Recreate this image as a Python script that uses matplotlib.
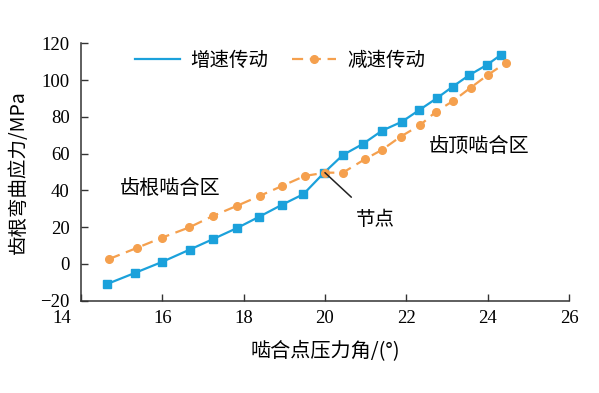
import matplotlib
matplotlib.use("Agg")
import matplotlib.pyplot as plt
import matplotlib.transforms as mtransforms
from matplotlib.lines import Line2D

# ── Data ──────────────────────────────────────────────────────────────────────
up_x = [14.64, 15.32, 15.99, 16.68, 17.24, 17.83, 18.39, 18.94, 19.47, 19.98,
        20.44, 20.93, 21.40, 21.89, 22.32, 22.75, 23.14, 23.55, 23.98, 24.32]
up_y = [-11.0, -5.0, 1.0, 7.8, 13.4, 19.4, 25.7, 32.1, 37.9, 49.6,
        59.2, 65.2, 72.4, 77.3, 83.7, 90.1, 96.4, 102.7, 108.2, 113.6]

down_x = [14.70, 15.38, 16.00, 16.66, 17.25, 17.83, 18.40, 18.95, 19.50, 20.00,
          20.44, 20.98, 21.40, 21.86, 22.34, 22.73, 23.15, 23.58, 24.00, 24.45]
down_y = [2.7, 8.7, 14.3, 19.8, 26.1, 31.5, 37.0, 42.4, 47.8, 49.6,
          49.6, 56.9, 62.0, 69.2, 75.5, 82.8, 88.6, 95.8, 102.7, 109.4]

labels = ["增速传动", "减速传动"]
x_ticks = [14, 16, 18, 20, 22, 24, 26]
y_ticks = [-20, 0, 20, 40, 60, 80, 100, 120]

BLUE = "#1BA1DB"
ORANGE = "#F5A04E"
CJK = ["Noto Sans CJK SC", "DejaVu Sans"]
SERIF = "Liberation Serif"

# ── Figure ────────────────────────────────────────────────────────────────────
fig = plt.figure(figsize=(5.99, 3.93), dpi=100)
ax = fig.add_axes([0.135, 0.235, 0.815, 0.655])

ax.plot(up_x, up_y, color=BLUE, lw=1.6, marker="s", ms=5.5)
ax.plot(down_x, down_y, color=ORANGE, lw=1.6, ls=(0, (5, 3)), marker="o", ms=5.5)

ax.set_xlim(14, 26)
ax.set_ylim(-20, 120)
ax.set_xticks(x_ticks)
ax.set_yticks(y_ticks)
ax.set_xticklabels([str(v) for v in x_ticks], family=SERIF, fontsize=13.5)
ax.set_yticklabels([str(v).replace("-", "\u2212") for v in y_ticks], family=SERIF, fontsize=13.5)
ax.tick_params(direction="in", length=5, width=1, color="#333333")
ax.tick_params(axis="y", pad=8)
ax.tick_params(axis="x", pad=7)

# first x label sits left of the corner in the reference
first = ax.get_xticklabels()[0]
first.set_transform(first.get_transform() +
                    mtransforms.ScaledTranslation(-0.19, 0, fig.dpi_scale_trans))

for side in ["top", "right"]:
    ax.spines[side].set_visible(False)
for side in ["left", "bottom"]:
    ax.spines[side].set_linewidth(1.1)
    ax.spines[side].set_color("#333333")

ax.set_xlabel("啮合点压力角/(°)", family=CJK, fontsize=14.5, labelpad=10)
ax.set_ylabel("齿根弯曲应力/MPa", family=CJK, fontsize=14, labelpad=8)

handles = [Line2D([], [], color=BLUE, lw=1.6),
           Line2D([], [], color=ORANGE, lw=1.6, ls=(0, (5, 3)), marker="o", ms=5.5)]
ax.legend(handles, labels, loc="center left", bbox_to_anchor=(0.095, 0.935), ncol=2,
          frameon=False, prop={"family": CJK, "size": 14}, handlelength=2.3,
          columnspacing=1.2, handletextpad=0.55, borderaxespad=0)

ax.text(16.2, 40.8, "齿根啮合区", family=CJK, fontsize=14.5, ha="center", va="center")
ax.text(23.8, 64.1, "齿顶啮合区", family=CJK, fontsize=14.5, ha="center", va="center")
ax.annotate("节点", xy=(20.0, 49.6), xytext=(21.25, 23.9), family=CJK, fontsize=14,
            ha="center", va="center",
            arrowprops=dict(arrowstyle="-", color="#222222", lw=1.1,
                            shrinkA=10, shrinkB=0))

fig.savefig("out.png", dpi=100)
